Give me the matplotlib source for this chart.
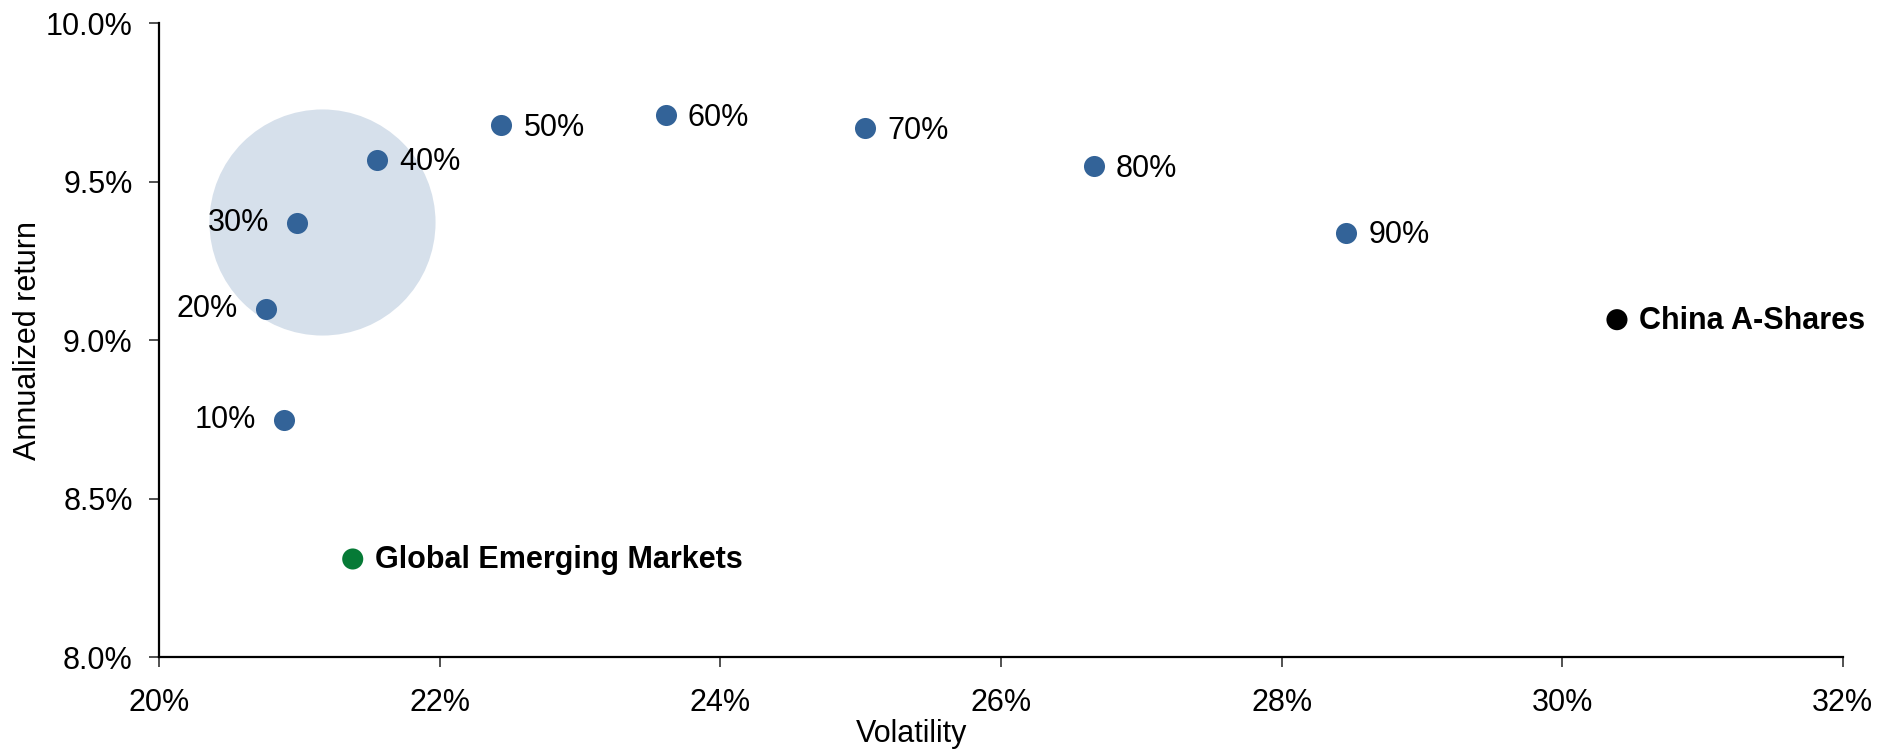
import matplotlib.pyplot as plt
from matplotlib.ticker import FuncFormatter

plt.rcParams['font.family'] = ['Liberation Sans', 'DejaVu Sans']

# Blend portfolios: share in China A-Shares, volatility (%) and annualized return (%)
blend_labels = ['10%', '20%', '30%', '40%', '50%', '60%', '70%', '80%', '90%']
blend_vol = [20.89, 20.76, 20.98, 21.55, 22.44, 23.61, 25.03, 26.66, 28.46]
blend_ret = [8.75, 9.10, 9.37, 9.57, 9.68, 9.71, 9.67, 9.55, 9.34]

# Pure indices
index_names = ['Global Emerging Markets', 'China A-Shares']
index_vol = [21.38, 30.39]
index_ret = [8.31, 9.065]
index_colors = ['#067A36', '#000000']

# Highlight bubble around the low-volatility blends
bubble_vol = [21.16]
bubble_ret = [9.373]

FS = 22

fig, ax = plt.subplots(figsize=(18.94, 7.52), dpi=100)
fig.subplots_adjust(left=0.084, right=0.973, top=0.969, bottom=0.126)

ax.scatter(bubble_vol, bubble_ret, s=26500, color='#D6E0EB', zorder=1,
           linewidths=0)
ax.scatter(blend_vol, blend_ret, s=230, color='#336398', zorder=3,
           linewidths=0)
ax.scatter(index_vol, index_ret, s=230, color=index_colors, zorder=3,
           linewidths=0)

for lbl, x, y in zip(blend_labels, blend_vol, blend_ret):
    if lbl in ('10%', '20%', '30%'):
        ax.annotate(lbl, (x, y), xytext=(-20, 0), textcoords='offset points',
                    ha='right', va='center', fontsize=FS)
    else:
        ax.annotate(lbl, (x, y), xytext=(16, -2), textcoords='offset points',
                    ha='left', va='center', fontsize=FS)

for name, x, y in zip(index_names, index_vol, index_ret):
    ax.annotate(name, (x, y), xytext=(16, -1), textcoords='offset points',
                ha='left', va='center', fontsize=FS, fontweight='bold')

ax.set_xlim(20, 32)
ax.set_ylim(8, 10)
ax.set_xticks([20, 22, 24, 26, 28, 30, 32])
ax.set_yticks([8.0, 8.5, 9.0, 9.5, 10.0])
ax.xaxis.set_major_formatter(FuncFormatter(lambda v, p: f'{v:.0f}%'))
ax.yaxis.set_major_formatter(FuncFormatter(lambda v, p: f'{v:.1f}%'))

for side in ('top', 'right'):
    ax.spines[side].set_visible(False)
for side in ('left', 'bottom'):
    ax.spines[side].set_linewidth(1.6)
ax.tick_params(axis='both', labelsize=FS, length=7, width=1.2, color='#333333')
ax.tick_params(axis='y', pad=12)
ax.tick_params(axis='x', pad=15)

ax.set_xlabel('Volatility', fontsize=FS)
ax.set_ylabel('Annualized return', fontsize=FS)
ax.xaxis.set_label_coords(0.447, -0.098)
ax.yaxis.set_label_coords(-0.069, 0.5)

fig.savefig('out.png', dpi=100)
